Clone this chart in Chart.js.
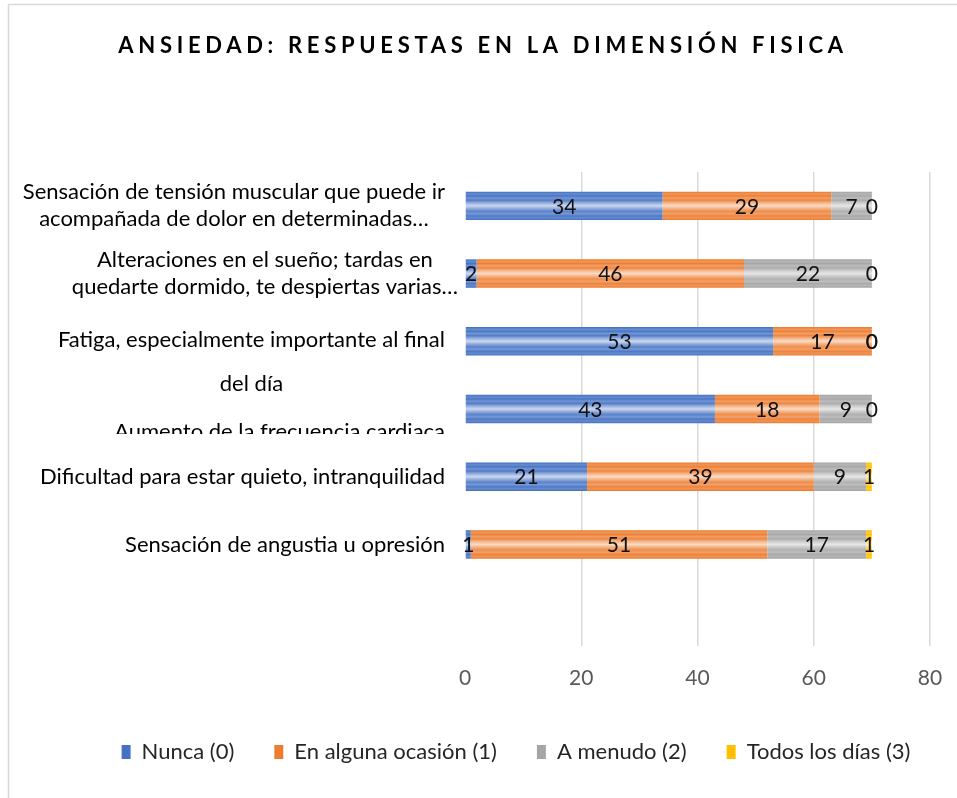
<!DOCTYPE html>
<html>
<head>
<meta charset="utf-8">
<script src="https://cdn.jsdelivr.net/npm/chart.js@4"></script>
<style>
  html, body { margin: 0; padding: 0; background: #fff; }
  #wrap { width: 957px; height: 798px; position: relative; }
</style>
</head>
<body>
<div id="wrap"><canvas id="myChart" width="957" height="798"></canvas></div>
<script>
// categories, top to bottom (last one is an empty slot, like the original)
const categories = [
  ["Sensación de tensión muscular que puede ir", "acompañada de dolor en determinadas…"],
  ["Alteraciones en el sueño; tardas en", "quedarte dormido, te despiertas varias…"],
  ["Fatiga, especialmente importante al final", "del día"],
  ["Aumento de la frecuencia cardiaca"],
  ["Dificultad para estar quieto, intranquilidad"],
  ["Sensación de angustia u opresión"],
  [""]
];
const seriesNames = ["Nunca (0)", "En alguna ocasión (1)", "A menudo (2)", "Todos los días (3)"];
const nunca    = [34, 2, 53, 43, 21, 1, null];
const ocasion  = [29, 46, 17, 18, 39, 51, null];
const aMenudo  = [7, 22, 0, 9, 9, 17, null];
const todosDias = [0, 0, 0, 0, 1, 1, null];
const xTicks = [0, 20, 40, 60, 80];

const titleText = "ANSIEDAD: RESPUESTAS EN LA DIMENSIÓN FISICA";
const FONT = "Lato, 'Noto Sans', sans-serif";

const colors = ['#4472C4', '#ED7D31', '#A5A5A5', '#FFC000'];

function mix(hex, t) {
  let r = parseInt(hex.slice(1, 3), 16), g = parseInt(hex.slice(3, 5), 16), b = parseInt(hex.slice(5, 7), 16);
  r = Math.round(r + (255 - r) * t); g = Math.round(g + (255 - g) * t); b = Math.round(b + (255 - b) * t);
  return `rgb(${r},${g},${b})`;
}

// striped look of the original bars, built per bar from the category scale
function stripes(base) {
  return (ctx) => {
    if (ctx.type !== 'data') return base;
    const chart = ctx.chart;
    const ys = chart.scales.y;
    if (!ys) return base;
    const c = ys.getPixelForValue(ctx.dataIndex);
    const h = 14;
    const g = chart.ctx.createLinearGradient(0, c - h, 0, c + h);
    const stops = [[0, 0], [0.08, 0.2], [0.14, 0.02], [0.22, 0.25], [0.3, 0.08], [0.4, 0.45], [0.5, 0.72], [0.6, 0.4], [0.7, 0.12], [0.78, 0.28], [0.86, 0.05], [0.93, 0.18], [1, 0]];
    stops.forEach(s => g.addColorStop(s[0], mix(base, s[1])));
    return g;
  };
}

const frame = {
  id: 'frame',
  afterLayout(chart) {
    // the original legend sits a bit right of centre
    if (chart.legend) { chart.legend.left += 51; chart.legend.right += 51; }
  },
  beforeDraw(chart) {
    const c = chart.ctx;
    c.save();
    c.fillStyle = '#fff';
    c.fillRect(0, 0, chart.width, chart.height);
    c.strokeStyle = '#d9d9d9';
    c.lineWidth = 1.5;
    c.strokeRect(8.5, 4.5, 1200, 1200);
    // title with letter spacing
    c.fillStyle = '#000';
    c.font = `bold 22px ${FONT}`;
    c.letterSpacing = '4.7px';
    c.textAlign = 'center';
    c.textBaseline = 'middle';
    c.fillText(titleText, 483, 46);
    c.restore();
  }
};

// category labels drawn like Excel does: lines centered inside a right-aligned block
const catLabels = {
  id: 'catLabels',
  afterDraw(chart, args, opts) {
    const ys = chart.scales.y;
    const c = chart.ctx;
    c.save();
    c.font = `22px ${FONT}`;
    c.fillStyle = '#000';
    c.textAlign = 'center';
    c.textBaseline = 'middle';
    categories.forEach((lines, i) => {
      const q = opts.quirks[i] || {};
      const gap = q.gap || opts.lineGap;
      const y0 = ys.getPixelForTick(i);
      const w = Math.max(...lines.map(l => c.measureText(l).width));
      const cx = (q.right || opts.right) - w / 2;
      const top = y0 - (lines.length - 1) * gap / 2 + (q.dy || 0);
      c.save();
      if (q.clip) {
        c.beginPath();
        c.rect(0, 0, ys.right, y0 + q.clip);
        c.clip();
      }
      lines.forEach((l, k) => c.fillText(l, cx, top + k * gap));
      c.restore();
    });
    c.restore();
  }
};

const valueLabels = {
  id: 'valueLabels',
  afterDatasetsDraw(chart) {
    const c = chart.ctx;
    c.save();
    c.font = `21px ${FONT}`;
    c.fillStyle = '#111';
    c.textAlign = 'center';
    c.textBaseline = 'middle';
    chart.data.datasets.forEach((ds, di) => {
      const meta = chart.getDatasetMeta(di);
      meta.data.forEach((el, i) => {
        const v = ds.data[i];
        if (v === null || v === undefined) return;
        c.fillText(String(v), (el.x + el.base) / 2, el.y + 1);
      });
    });
    c.restore();
  }
};

const ctx = document.getElementById('myChart').getContext('2d');
const myChart = new Chart(ctx, {
  type: 'bar',
  data: {
    labels: categories,
    datasets: [
      { label: seriesNames[0], data: nunca, backgroundColor: stripes(colors[0]) },
      { label: seriesNames[1], data: ocasion, backgroundColor: stripes(colors[1]) },
      { label: seriesNames[2], data: aMenudo, backgroundColor: stripes(colors[2]) },
      { label: seriesNames[3], data: todosDias, backgroundColor: stripes(colors[3]) }
    ].map(d => ({ ...d, borderWidth: 0, barPercentage: 0.42, categoryPercentage: 1 }))
  },
  options: {
    indexAxis: 'y',
    responsive: false,
    animation: false,
    layout: { padding: { top: 172, right: 27, left: 0, bottom: 25 } },
    scales: {
      x: {
        stacked: true,
        min: 0, max: 80,
        afterBuildTicks: (s) => { s.ticks = xTicks.map(v => ({ value: v })); },
        afterFit: (s) => { s.height = 55; s.paddingRight = 0; s.paddingLeft = 0; },
        border: { display: false },
        grid: {
          drawTicks: false,
          color: (c) => c.tick && c.tick.value === 0 ? 'rgba(0,0,0,0)' : '#d9d9d9',
          lineWidth: 1.5
        },
        ticks: { padding: 20, color: '#595959', font: { family: FONT, size: 21 } }
      },
      y: {
        stacked: true,
        afterFit: (s) => { s.width = 465; },
        border: { display: false },
        grid: { display: false },
        ticks: { display: false }
      }
    },
    plugins: {
      legend: {
        position: 'bottom',
        labels: {
          boxWidth: 9, boxHeight: 14, padding: 40,
          color: '#262626',
          font: { family: FONT, size: 22 },
          generateLabels: (chart) => chart.data.datasets.map((d, i) => ({
            text: d.label, fillStyle: colors[i], strokeStyle: colors[i], lineWidth: 0, datasetIndex: i, fontColor: '#262626'
          }))
        }
      },
      tooltip: { enabled: false },
      catLabels: {
        right: 445,
        lineGap: 27,
        quirks: { 1: { right: 458 }, 2: { dy: 21, gap: 44 }, 3: { dy: 23, clip: 25 } }
      }
    }
  },
  plugins: [frame, catLabels, valueLabels]
});
</script>
</body>
</html>
